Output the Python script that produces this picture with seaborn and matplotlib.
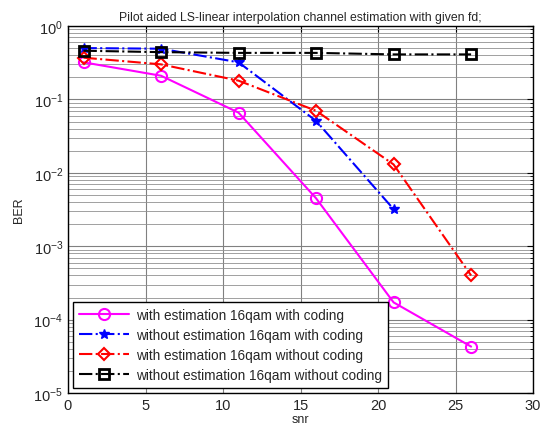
import matplotlib
matplotlib.use('Agg')
import matplotlib.pyplot as plt
import matplotlib.ticker as mticker
import seaborn as sns
import pandas as pd

# SNR points and BER curves
snr = [1, 6, 11, 16, 21, 26]
est_coded = [0.32, 0.21, 0.066, 0.0045, 1.72e-4, 4.3e-5]
noest_coded = [0.50, 0.49, 0.32, 0.051, 0.0032]
est_uncoded = [0.37, 0.30, 0.18, 0.070, 0.013, 4.0e-4]
noest_uncoded = [0.46, 0.44, 0.43, 0.43, 0.41, 0.41]

labels = ['with estimation 16qam with coding',
          'without estimation 16qam with coding',
          'with estimation 16qam without coding',
          'without estimation 16qam without coding']

sns.set_style('white')
plt.rcParams['font.family'] = ['Liberation Sans', 'DejaVu Sans']
plt.rcParams['mathtext.fontset'] = 'custom'
plt.rcParams['mathtext.rm'] = 'Liberation Sans'

fig, ax = plt.subplots(figsize=(5.44, 4.35), dpi=100)
fig.subplots_adjust(left=0.125, right=0.98, top=0.938, bottom=0.094)

sns.lineplot(x=snr, y=est_coded, ax=ax, color='magenta', linestyle='-', lw=1.5,
             marker='o', markersize=8, markerfacecolor='none',
             markeredgecolor='magenta', markeredgewidth=1.5, label=labels[0])
sns.lineplot(x=snr[:len(noest_coded)], y=noest_coded, ax=ax, color='blue',
             linestyle='-.', lw=1.5, marker='*', markersize=7,
             markerfacecolor='blue', markeredgecolor='blue',
             markeredgewidth=1, label=labels[1])
sns.lineplot(x=snr, y=est_uncoded, ax=ax, color='red', linestyle='-.', lw=1.5,
             marker='D', markersize=6.5, markerfacecolor='none',
             markeredgecolor='red', markeredgewidth=1.5, label=labels[2])
sns.lineplot(x=snr, y=noest_uncoded, ax=ax, color='black', linestyle='-.',
             lw=1.5, marker='s', markersize=7, markerfacecolor='none',
             markeredgecolor='black', markeredgewidth=2, label=labels[3])

ax.set_yscale('log')
ax.set_xlim(0, 30)
ax.set_ylim(1e-5, 1)
ax.xaxis.set_major_locator(mticker.MultipleLocator(5))
ax.yaxis.set_major_locator(mticker.LogLocator(base=10, numticks=10))
ax.yaxis.set_minor_locator(mticker.LogLocator(base=10, subs=range(2, 10), numticks=20))
ax.yaxis.set_minor_formatter(mticker.NullFormatter())

ax.grid(True, which='major', color='#808080', lw=0.8)
ax.grid(True, which='minor', axis='y', color='#909090', lw=0.6)
ax.tick_params(which='both', direction='in', top=True, right=True,
               labelsize=10.5, color='black')
ax.tick_params(which='major', length=4)
ax.tick_params(which='minor', length=2.5)
for s in ax.spines.values():
    s.set_color('black')
    s.set_linewidth(1)

ax.set_xlabel('snr', fontsize=9, labelpad=1)
ax.set_ylabel('BER', fontsize=9, labelpad=6)
ax.set_title('Pilot aided LS-linear interpolation channel estimation with given fd;',
             fontsize=8.8, pad=4)

leg = ax.legend(loc='lower left', fontsize=9.8, frameon=True, fancybox=False,
                edgecolor='black', framealpha=1, borderaxespad=0.4,
                handlelength=3.7, labelspacing=0.45, borderpad=0.4,
                handletextpad=0.5)
leg.get_frame().set_linewidth(1)

fig.savefig('out.png', dpi=100)
